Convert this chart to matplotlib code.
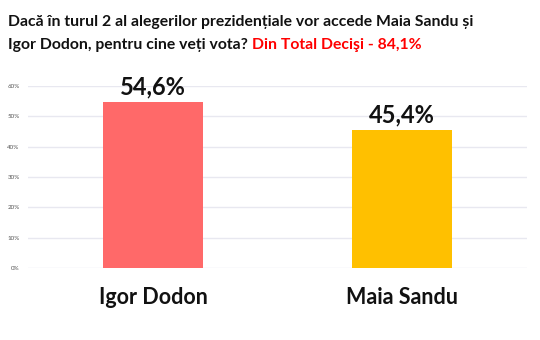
import numpy as np
import matplotlib.pyplot as plt

# Data ------------------------------------------------------------------------
candidates = ['Igor Dodon', 'Maia Sandu']
shares = [54.6, 45.4]
barColors = ['#FF6969', '#FFC000']
yTicks = [0, 10, 20, 30, 40, 50, 60]
titleLine1 = 'Dacă în turul 2 al alegerilor prezidențiale vor accede Maia Sandu și'
titleLine2 = 'Igor Dodon, pentru cine veți vota? '
titleRed = 'Din Total Decişi - 84,1%'

plt.rcParams['font.family'] = ['Lato', 'DejaVu Sans']

# Plot ------------------------------------------------------------------------
fig = plt.figure(figsize=(5.4, 3.4), dpi=100)
ax = fig.add_axes([28/540, 72/340, 499/540, 182/340])
x = np.arange(len(candidates))
bars = ax.bar(x, shares, width=0.40, color=barColors, zorder=2)
for (b, v) in zip(bars, shares):
    ax.annotate(
        '{:.1f}%'.format(v).replace('.', ','),
        (b.get_x()+b.get_width()/2, v), xytext=(0, 3),
        textcoords='offset points', ha='center', va='bottom',
        fontsize=17, fontweight='bold', color='#111111'
    )
ax.set_xlim(-0.502, 1.502)
ax.set_ylim(0, 60)
ax.set_yticks(yTicks)
ax.set_yticklabels(['{}%'.format(t) for t in yTicks], fontsize=4.5, color='#555555')
ax.tick_params(axis='y', length=0, pad=6)
ax.set_xticks(x)
ax.set_xticklabels(candidates, fontsize=15.5, fontweight='bold', color='#111111')
ax.tick_params(axis='x', length=0, pad=14)
ax.grid(axis='y', color='#E8E8F0', linewidth=1, zorder=0)
for s in ax.spines.values():
    s.set_visible(False)

# Title -----------------------------------------------------------------------
tkw = dict(fontsize=11.3, fontweight='bold', va='baseline', ha='left')
fig.text(8/540, 1-26/340, titleLine1, color='#111111', **tkw)
t2 = fig.text(8/540, 1-49/340, titleLine2, color='#111111', **tkw)
fig.canvas.draw()
bb = t2.get_window_extent()
fig.text(bb.x1/fig.bbox.width, 1-49/340, titleRed, color='#FF0000', **tkw)

plt.savefig('out.png', dpi=100, facecolor='w')
plt.close('all')
